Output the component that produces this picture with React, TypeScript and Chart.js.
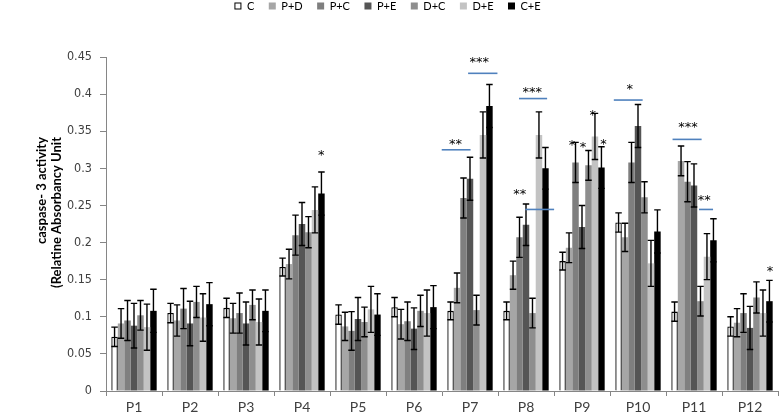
import React, { useEffect, useRef } from "react";
import { Chart, registerables } from "chart.js";

Chart.register(...registerables);

// ---------- data ----------
const categories = ["P1", "P2", "P3", "P4", "P5", "P6", "P7", "P8", "P9", "P10", "P11", "P12"];
const seriesNames = ["C", "P+D", "P+C", "P+E", "D+C", "D+E", "C+E"];
const seriesColors = ["#ffffff", "#a6a6a6", "#7f7f7f", "#555555", "#8e8e8e", "#c3c3c3", "#000000"];

const valC = [0.073, 0.105, 0.112, 0.167, 0.103, 0.113, 0.108, 0.108, 0.175, 0.227, 0.107, 0.087];
const valPD = [0.091, 0.095, 0.098, 0.171, 0.087, 0.090, 0.139, 0.156, 0.193, 0.207, 0.310, 0.092];
const valPC = [0.095, 0.111, 0.105, 0.210, 0.081, 0.094, 0.260, 0.207, 0.308, 0.308, 0.282, 0.105];
const valPE = [0.088, 0.091, 0.091, 0.225, 0.097, 0.084, 0.286, 0.224, 0.221, 0.357, 0.277, 0.085];
const valDC = [0.102, 0.120, 0.116, 0.214, 0.093, 0.108, 0.109, 0.105, 0.304, 0.261, 0.121, 0.126];
const valDE = [0.086, 0.099, 0.093, 0.244, 0.110, 0.105, 0.345, 0.345, 0.343, 0.172, 0.181, 0.105];
const valCE = [0.108, 0.117, 0.108, 0.266, 0.103, 0.113, 0.384, 0.300, 0.301, 0.215, 0.203, 0.121];

const errC = [0.013, 0.013, 0.013, 0.012, 0.013, 0.013, 0.012, 0.012, 0.012, 0.013, 0.013, 0.013];
const errPD = [0.020, 0.021, 0.020, 0.020, 0.019, 0.020, 0.020, 0.019, 0.020, 0.019, 0.020, 0.019];
const errPC = [0.027, 0.027, 0.027, 0.027, 0.026, 0.026, 0.027, 0.027, 0.027, 0.027, 0.027, 0.026];
const errPE = [0.030, 0.030, 0.029, 0.029, 0.029, 0.028, 0.029, 0.028, 0.029, 0.029, 0.029, 0.029];
const errDC = [0.020, 0.021, 0.020, 0.021, 0.020, 0.021, 0.020, 0.020, 0.020, 0.021, 0.020, 0.021];
const errDE = [0.031, 0.032, 0.031, 0.031, 0.031, 0.031, 0.031, 0.031, 0.031, 0.031, 0.031, 0.031];
const errCE = [0.029, 0.029, 0.028, 0.029, 0.028, 0.029, 0.029, 0.028, 0.028, 0.029, 0.029, 0.028];

const seriesValues = [valC, valPD, valPC, valPE, valDC, valDE, valCE];
const seriesErrors = [errC, errPD, errPC, errPE, errDC, errDE, errCE];

const yTickLabels = ["0", "0.05", "0.1", "0.15", "0.2", "0.25", "0.3", "0.35", "0.4", "0.45"];
const yMax = 0.45;
const yStep = 0.05;

const axisTitle = ["caspase- 3 activity", "(Relatine Absorbancy Unit"];

// significance annotations (category position, value)
const starTexts = ["*", "**", "***", "**", "***", "*", "*", "*", "*", "*", "***", "**", "*"];
const starPos = [3.345, 5.743, 6.164, 6.889, 7.111, 7.821, 8.017, 8.194, 8.385, 8.852, 9.894, 10.184, 11.356];
const starVal = [0.321, 0.336, 0.4454, 0.2675, 0.405, 0.3345, 0.3315, 0.375, 0.335, 0.41, 0.359, 0.26, 0.1637];

const lineFrom = [5.495, 5.966, 6.987, 6.875, 8.568, 9.617, 10.09];
const lineTo = [6.01, 6.49, 7.502, 7.377, 9.083, 10.136, 10.34];
const lineVal = [0.325, 0.428, 0.2446, 0.394, 0.392, 0.339, 0.2446];

const FONT = "Lato, 'Open Sans', sans-serif";
const NARROW = "'Liberation Sans Narrow', 'Arial Narrow', 'DejaVu Sans Condensed', sans-serif";
const STAR_FONT = "'DejaVu Sans', sans-serif";

function posToPixel(chart: any, pos: number) {
  const x = chart.scales.x;
  const p0 = x.getPixelForValue(0);
  const p1 = x.getPixelForValue(1);
  return p0 + pos * (p1 - p0);
}

const errorBarPlugin = {
  id: "errorBars",
  afterDatasetsDraw(chart: any) {
    const ctx = chart.ctx;
    const y = chart.scales.y;
    ctx.save();
    ctx.strokeStyle = "#000000";
    ctx.lineWidth = 1.4;
    chart.data.datasets.forEach((ds: any, di: number) => {
      const meta = chart.getDatasetMeta(di);
      meta.data.forEach((bar: any, i: number) => {
        const v = ds.data[i];
        const e = seriesErrors[di][i];
        const x = bar.x;
        const half = bar.width / 2;
        const yt = y.getPixelForValue(v + e);
        const yb = y.getPixelForValue(v - e);
        ctx.beginPath();
        ctx.moveTo(x, yt);
        ctx.lineTo(x, yb);
        ctx.moveTo(x - half, yt);
        ctx.lineTo(x + half, yt);
        ctx.moveTo(x - half, yb);
        ctx.lineTo(x + half, yb);
        ctx.stroke();
      });
    });
    ctx.restore();
  },
};

const annotationPlugin = {
  id: "annotations",
  afterDraw(chart: any) {
    const ctx = chart.ctx;
    const y = chart.scales.y;
    ctx.save();
    // blue lines
    ctx.strokeStyle = "#4f81bd";
    ctx.lineWidth = 1.6;
    lineFrom.forEach((f, i) => {
      const py = y.getPixelForValue(lineVal[i]);
      ctx.beginPath();
      ctx.moveTo(posToPixel(chart, f), py);
      ctx.lineTo(posToPixel(chart, lineTo[i]), py);
      ctx.stroke();
    });
    // stars
    ctx.fillStyle = "#000000";
    ctx.font = "13px " + STAR_FONT;
    ctx.textAlign = "center";
    ctx.textBaseline = "alphabetic";
    const m = ctx.measureText("*");
    const shift = (m.actualBoundingBoxAscent - m.actualBoundingBoxDescent) / 2;
    starTexts.forEach((t, i) => {
      const px = posToPixel(chart, starPos[i]);
      const py = y.getPixelForValue(starVal[i]);
      ctx.fillText(t, px, py + shift);
    });

    // y axis title (two lines, rotated)
    ctx.font = "bold 13px " + FONT;
    ctx.fillStyle = "#000000";
    ctx.textAlign = "right";
    ctx.textBaseline = "middle";
    const top = chart.chartArea.top;
    axisTitle.forEach((t, i) => {
      ctx.save();
      ctx.translate(41.5 + i * 15, top + 80);
      ctx.rotate(-Math.PI / 2);
      ctx.fillText(t, 0, 0);
      ctx.restore();
    });

    // legend
    ctx.font = "11px " + FONT;
    ctx.textAlign = "left";
    ctx.textBaseline = "middle";
    const box = 7;
    const gap = 5.5;
    const spacing = 14.5;
    const widths = seriesNames.map((n) => box + gap + ctx.measureText(n).width);
    const total = widths.reduce((a, b) => a + b, 0) + spacing * (widths.length - 1);
    let lx = chart.width / 2 - 2 - total / 2;
    const ly = 6;
    seriesNames.forEach((n, i) => {
      ctx.fillStyle = seriesColors[i];
      ctx.fillRect(lx, ly - box / 2, box, box);
      if (i === 0) {
        ctx.strokeStyle = "#000000";
        ctx.lineWidth = 1;
        ctx.strokeRect(lx + 0.5, ly - box / 2 + 0.5, box - 1, box - 1);
      }
      ctx.fillStyle = "#000000";
      ctx.fillText(n, lx + box + gap, ly + 0.5);
      lx += widths[i] + spacing;
    });
    ctx.restore();
  },
};

export default function App() {
  const canvasRef = useRef<HTMLCanvasElement | null>(null);

  useEffect(() => {
    const canvas = canvasRef.current;
    if (!canvas) return;
    const chart = new Chart(canvas, {
      type: "bar",
      data: {
        labels: categories,
        datasets: seriesNames.map((name, i) => ({
          label: name,
          data: seriesValues[i],
          backgroundColor: seriesColors[i],
          borderColor: "#000000",
          borderWidth: i === 0 ? 1.3 : 0,
          categoryPercentage: 0.81,
          barPercentage: 1.0,
        })),
      },
      options: {
        responsive: false,
        animation: false,
        devicePixelRatio: 1,
        layout: { padding: { top: 57, right: 1, left: 0, bottom: 0 } },
        plugins: {
          legend: { display: false },
          tooltip: { enabled: false },
          title: { display: false },
        },
        scales: {
          x: {
            offset: true,
            grid: {
              offset: true,
              drawOnChartArea: false,
              drawTicks: true,
              tickLength: 5,
              color: "#868686",
            },
            border: { display: true, color: "#868686", width: 1 },
            ticks: {
              color: "#404040",
              font: { family: FONT, size: 14 },
              padding: 3,
              maxRotation: 0,
            },
            afterFit: (scale: any) => {
              scale.height = 25;
            },
          },
          y: {
            min: 0,
            max: yMax,
            ticks: {
              stepSize: yStep,
              color: "#404040",
              font: { family: NARROW, size: 12.5 },
              padding: 8,
              callback: (_v: any, idx: number) => yTickLabels[idx],
            },
            grid: {
              drawOnChartArea: false,
              drawTicks: true,
              tickLength: 6,
              color: "#868686",
            },
            border: { display: true, color: "#868686", width: 1 },
            afterFit: (scale: any) => {
              scale.width = 106;
            },
          },
        },
      },
      plugins: [errorBarPlugin, annotationPlugin],
    });
    return () => chart.destroy();
  }, []);

  return (
    <div style={{ position: "absolute", left: 0, top: 0, width: 779, height: 416, background: "#ffffff" }}>
      <canvas ref={canvasRef} width={779} height={416} style={{ display: "block" }} />
    </div>
  );
}
